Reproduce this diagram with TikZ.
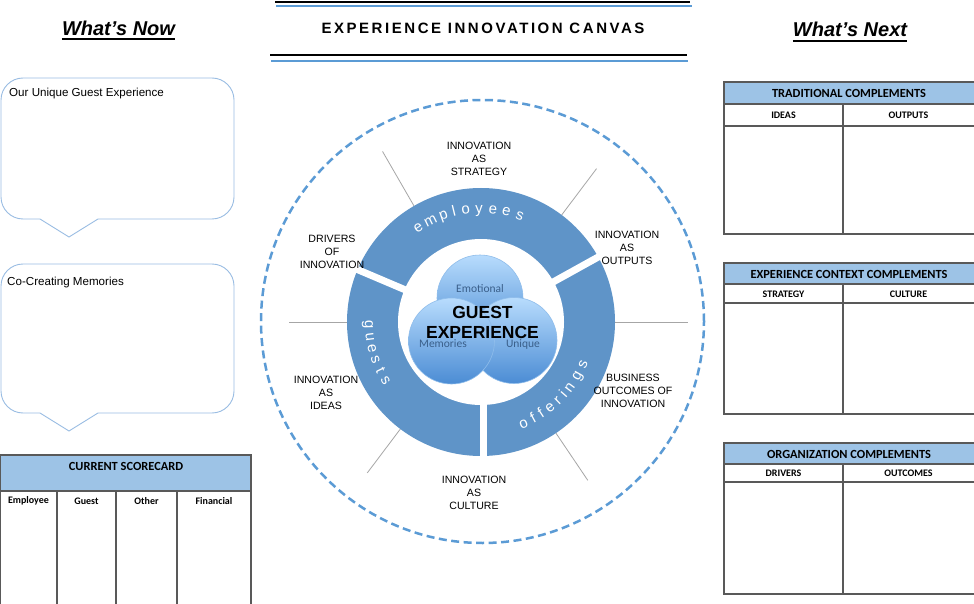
\documentclass[tikz,border=0pt]{standalone}
\usepackage{fontspec}
\setmainfont{Liberation Sans}
\newfontfamily\calfont{Carlito}
\definecolor{ringblue}{HTML}{5F94C8}
\definecolor{dashblue}{HTML}{5B9BD5}
\definecolor{hdrblue}{HTML}{9DC3E6}
\definecolor{bubblec}{HTML}{9ABDE3}
\definecolor{spokegray}{HTML}{A6A6A6}
\definecolor{tblline}{HTML}{595959}
\definecolor{vennlight}{HTML}{B8DCFD}
\definecolor{venndark}{HTML}{4B8CD4}
\definecolor{vennedge}{HTML}{8FBDEB}
\definecolor{vennlabel}{HTML}{3A5F8A}
\begin{document}
\begin{tikzpicture}[x=1pt,y=-1pt,
  bubble/.style={draw=bubblec, line width=0.9pt},
  bubbletext/.style={inner sep=0pt, anchor=base west, font=\fontsize{11.6}{13}\selectfont},
  tbl/.style={draw=tblline, line width=1.3pt},
  tblhead/.style={inner sep=0pt, font=\calfont\bfseries\fontsize{12.4}{14}\selectfont},
  tblsub/.style={inner sep=0pt, font=\calfont\bfseries\fontsize{10}{11}\selectfont},
  outerlabel/.style={inner sep=0pt, align=center, font=\fontsize{10.6}{13}\selectfont},
  spoke/.style={draw=spokegray, line width=0.8pt},
  ringletter/.style={inner sep=0pt, text=white, font=\fontsize{15}{15}\selectfont},
  venn/.style={draw=vennedge, line width=0.6pt, top color=vennlight, bottom color=venndark},
  vennlab/.style={inner sep=0pt, text=vennlabel, font=\calfont\fontsize{11.5}{12}\selectfont},
  sidetitle/.style={inner sep=0pt, anchor=base, font=\bfseries\itshape\fontsize{20}{22}\selectfont}
]
\useasboundingbox (0,0) rectangle (974,604);
\fill[white] (0,0) rectangle (974,604);

% ---- title ----
\draw[black, line width=2.2pt] (275,2) -- (690,2);
\draw[dashblue, line width=2pt] (276,6.5) -- (692,6.5);
\draw[black, line width=2.2pt] (270,55) -- (687,55);
\draw[dashblue, line width=2pt] (271,61.5) -- (688,61.5);
\node[inner sep=0pt, font=\bfseries\fontsize{15}{15}\selectfont\addfontfeature{LetterSpace=17}] (title) at (483,28.3) {EXPERIENCE INNOVATION CANVAS};

% ---- side titles ----
\node[sidetitle] (nowt) at (118.5,35.5) {What’s Now};
\draw[line width=1.6pt] ([yshift=-3.8pt]nowt.base west) -- ([yshift=-3.8pt]nowt.base east);
\node[sidetitle] (nextt) at (850,37) {What’s Next};
\draw[line width=1.6pt] ([yshift=-3.8pt]nextt.base west) -- ([yshift=-3.8pt]nextt.base east);

% ---- speech bubbles ----
\draw[bubble] (40,219) -- (69,237) -- (98,219) -- (212,219)
  .. controls (224.1,219) and (234,209.1) .. (234,197) -- (234,100)
  .. controls (234,87.9) and (224.1,78) .. (212,78) -- (23,78)
  .. controls (10.9,78) and (1,87.9) .. (1,100) -- (1,197)
  .. controls (1,209.1) and (10.9,219) .. (23,219) -- cycle;
\node[bubbletext] (b1) at (9,96.5) {Our Unique Guest Experience};
\draw[bubble] (40,413) -- (69,431) -- (98,413) -- (212,413)
  .. controls (224.1,413) and (234,403.1) .. (234,391) -- (234,286)
  .. controls (234,273.9) and (224.1,264) .. (212,264) -- (23,264)
  .. controls (10.9,264) and (1,273.9) .. (1,286) -- (1,391)
  .. controls (1,403.1) and (10.9,413) .. (23,413) -- cycle;
\node[bubbletext] (b2) at (7,285) {Co-Creating Memories};

% ---- current scorecard ----
\fill[hdrblue] (0,455) rectangle (251,491);
\draw[tbl] (0.7,607) -- (0.7,455) -- (251,455) -- (251,607);
\draw[tbl] (0,491) -- (251,491);
\draw[tbl] (57,491) -- (57,607);
\draw[tbl] (116,491) -- (116,607);
\draw[tbl] (177,491) -- (177,607);
\node[tblhead] (sc) at (126,466) {CURRENT SCORECARD};
\node[tblsub] (sc1) at (28.5,501) {Employee};
\node[tblsub] (sc2) at (86.5,501) {Guest};
\node[tblsub] (sc3) at (146.5,501) {Other};
\node[tblsub] (sc4) at (214,501) {Financial};

% ---- right tables ----
\fill[hdrblue] (724,82) rectangle (976,104);
\draw[tbl] (976,82) -- (724,82) -- (724,234) -- (976,234);
\draw[tbl] (724,104) -- (976,104);
\draw[tbl] (724,126) -- (976,126);
\draw[tbl] (843,104) -- (843,234);
\node[tblhead] (t1) at (849,93) {TRADITIONAL COMPLEMENTS};
\node[tblsub] (t1a) at (783.5,115) {IDEAS};
\node[tblsub] (t1b) at (908.5,115) {OUTPUTS};

\fill[hdrblue] (724,263) rectangle (976,284);
\draw[tbl] (976,263) -- (724,263) -- (724,414) -- (976,414);
\draw[tbl] (724,284) -- (976,284);
\draw[tbl] (724,303) -- (976,303);
\draw[tbl] (843,284) -- (843,414);
\node[tblhead] (t2) at (849,274) {EXPERIENCE CONTEXT COMPLEMENTS};
\node[tblsub] (t2a) at (783.5,294) {STRATEGY};
\node[tblsub] (t2b) at (908.5,294) {CULTURE};

\fill[hdrblue] (724,443) rectangle (976,464);
\draw[tbl] (976,443) -- (724,443) -- (724,594) -- (976,594);
\draw[tbl] (724,464) -- (976,464);
\draw[tbl] (724,482) -- (976,482);
\draw[tbl] (843,464) -- (843,594);
\node[tblhead] (t3) at (849,454) {ORGANIZATION COMPLEMENTS};
\node[tblsub] (t3a) at (783.5,473) {DRIVERS};
\node[tblsub] (t3b) at (908.5,473) {OUTCOMES};

% ---- central canvas ----
\begin{scope}[shift={(481,322)}, y=1pt]
  \draw[dashblue, line width=2.5pt, dash pattern=on 8pt off 4.5pt] (1.5,0.5) circle[radius=221.5];
  % spokes
  \draw[spoke] (120:134) -- (120:197);
  \draw[spoke] (53:134) -- (53:192);
  \draw[spoke] (180:134) -- (180:192);
  \draw[spoke] (0:132) -- (0:207);
  \draw[spoke] (233:134) -- (233:189);
  \draw[spoke] (304:134) -- (304:191);
  % ring
  \fill[ringblue] (0,0) circle[radius=134];
  \fill[white] (0,0) circle[radius=83];
  \draw[white, line width=7pt] (157:80) -- (157:138);
  \draw[white, line width=7pt] (29:80) -- (29:138);
  \draw[white, line width=7pt] (2,-80) -- (2,-138);
  % ring words
  \foreach \ch/\ang [count=\i] in {e/123.6, m/116.4, p/109.4, l/103.8, o/97.8, y/91.0, e/84.0, e/77.0, s/70.0}
    \node[ringletter, anchor=base, rotate=\ang-90] (emp\i) at (\ang:109) {\ch};
  \foreach \ch/\ang [count=\i] in {g/181.5, u/187.5, e/193.5, s/199.6, t/205.6, s/211.6}
    \node[ringletter, anchor=base, rotate=\ang+90] (gue\i) at (\ang:116) {\ch};
  \foreach \ch/\ang [count=\i] in {o/-67.3, f/-61.6, f/-56.8, e/-51.3, r/-45.8, i/-41.4, n/-36.4, g/-29.4, s/-22.4}
    \node[ringletter, anchor=base, rotate=\ang+90] (off\i) at (\ang:114.5) {\ch};
  % venn circles
  \path[venn] (-1,24) circle[radius=43];
  \path[venn] (33,-18.5) circle[radius=43];
  \path[venn] (-29.5,-19) circle[radius=43];
  \node[vennlab] (emo) at (-1,33) {Emotional};
  \node[vennlab] (mem) at (-38,-22) {Memories};
  \node[vennlab] (uni) at (42,-22) {Unique};
  \node[inner sep=0pt, align=center, font=\bfseries\fontsize{17.5}{20}\selectfont] (gx) at (1.5,0) {GUEST\\EXPERIENCE};
\end{scope}

% ---- outer labels ----
\node[outerlabel] (strat) at (479,159) {INNOVATION\\AS\\STRATEGY};
\node[outerlabel] (outp) at (627,248) {INNOVATION\\AS\\OUTPUTS};
\node[outerlabel] (driv) at (332,252) {DRIVERS\\OF\\INNOVATION};
\node[outerlabel] (ideas) at (326,393) {INNOVATION\\AS\\IDEAS};
\node[outerlabel] (cult) at (474,493) {INNOVATION\\AS\\CULTURE};
\node[outerlabel] (bus) at (633,391) {BUSINESS\\OUTCOMES OF\\INNOVATION};
\end{tikzpicture}
\end{document}
